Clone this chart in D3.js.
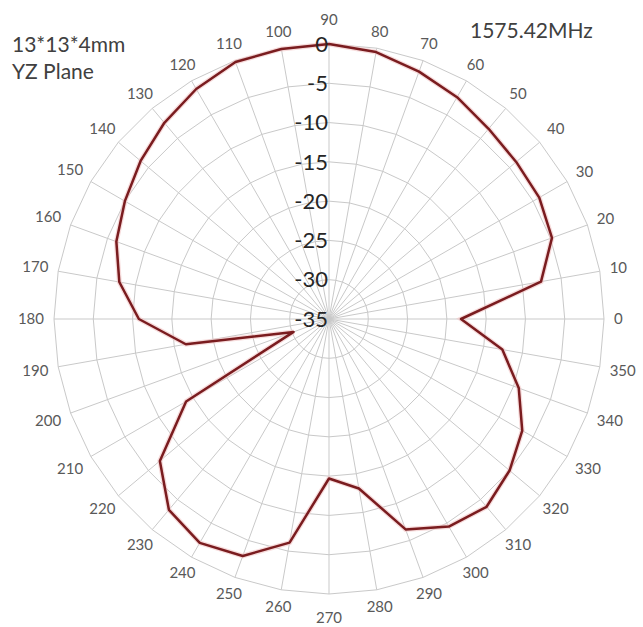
<!DOCTYPE html>
<html>
<head>
<meta charset="utf-8">
<script src="https://cdn.jsdelivr.net/npm/d3@7"></script>
<style>
  body { margin: 0; background: #fff; }
  text { font-family: Lato, "Open Sans", sans-serif; }
</style>
</head>
<body>
<script>
// Measured pattern, degrees and dB
var angles = [0, 10, 20, 30, 40, 50, 60, 70, 80, 90, 100, 110,
              120, 130, 140, 150, 160, 170, 180, 190, 200, 210, 220, 230,
              240, 250, 260, 270, 280, 290, 300, 310, 320, 330, 340, 350];
var gain = [-18.2, -7.6, -4.8, -4.1, -3.9, -3.4, -2.4, -1.5, -0.5, 0, -0.1, -0.2,
            -1.2, -2.4, -3.7, -5.0, -6.2, -7.9, -10.8, -16.5, -30.2, -14.0, -6.9, -3.3,
            -2.1, -2.9, -6.1, -14.7, -13.1, -6.5, -4.5, -3.8, -5.0, -6.6, -9.3, -12.6];
var ringLevels = [-35, -30, -25, -20, -15, -10, -5, 0];
var titleLines = ["13*13*4mm", "YZ Plane"];
var freqLabel = "1575.42MHz";

// Dimensions
var w = 643, h = 627;
var cx = 329, cy = 319, R = 275;

var svg = d3.select("body")
    .append("svg")
    .attr("width", w)
    .attr("height", h);

var g = svg.append("g")
    .attr("transform", "translate(" + cx + "," + cy + ")");

// Scales: 0 deg at 3 o'clock, counter-clockwise
var r = d3.scaleLinear().domain([-35, 0]).range([0, R]);
var a = d3.scaleLinear().domain([0, 360]).range([Math.PI / 2, Math.PI / 2 - 2 * Math.PI]);

var radial = d3.lineRadial()
    .angle(function(d) { return a(d.angle); })
    .radius(function(d) { return r(d.value); })
    .curve(d3.curveLinearClosed);

// Rings (36-gons like the radar grid)
g.selectAll(".ring")
    .data(ringLevels.filter(function(l) { return l > -35; }))
    .enter()
    .append("path")
    .attr("class", "ring")
    .attr("d", function(l) {
        return radial(angles.map(function(t) { return { angle: t, value: l }; }));
    })
    .style("fill", "none")
    .style("stroke", "#c9c9c9")
    .style("stroke-width", 1);

// Spokes
g.selectAll(".spoke")
    .data(angles)
    .enter()
    .append("line")
    .attr("class", "spoke")
    .attr("x1", 0)
    .attr("y1", 0)
    .attr("x2", function(t) { return Math.sin(a(t)) * r(0); })
    .attr("y2", function(t) { return -Math.cos(a(t)) * r(0); })
    .style("stroke", "#c9c9c9")
    .style("stroke-width", 1);

// Angle labels, pushed out by their own box
var angleLabels = g.selectAll(".angleLabel")
    .data(angles)
    .enter()
    .append("text")
    .attr("class", "angleLabel")
    .attr("text-anchor", "middle")
    .attr("dy", "0.35em")
    .style("font-size", "15px")
    .style("fill", "#595959")
    .text(function(t) { return t; });

angleLabels.each(function(t) {
    var tw = this.getComputedTextLength(), th = 14;
    var ang = a(t), sx = Math.sin(ang), sy = -Math.cos(ang);
    var off = Math.min(
        Math.abs(sx) > 1e-6 ? tw / 2 / Math.abs(sx) : 1e9,
        Math.abs(sy) > 1e-6 ? th / 2 / Math.abs(sy) : 1e9);
    // straight up / down labels sit a little further out
    var extra = Math.abs(sy) > 0.99 ? 7 : 0;
    var d = r(0) + 10 + off + extra;
    d3.select(this).attr("x", sx * d).attr("y", sy * d);
});

// Pattern line
var pattern = angles.map(function(t, i) { return { angle: t, value: gain[i] }; });

g.append("path")
    .datum(pattern)
    .attr("d", radial)
    .style("fill", "none")
    .style("stroke", "#f2c4c4")
    .style("stroke-width", 5)
    .style("opacity", 0.6);

g.append("path")
    .datum(pattern)
    .attr("d", radial)
    .style("fill", "none")
    .style("stroke", "#7a1c1f")
    .style("stroke-width", 2.5)
    .style("stroke-linejoin", "round");

// dB labels up the 90 deg spoke
g.selectAll(".ringLabel")
    .data(ringLevels)
    .enter()
    .append("text")
    .attr("class", "ringLabel")
    .attr("text-anchor", "end")
    .attr("x", -1)
    .attr("y", function(l) { return -r(l); })
    .attr("dy", "0.35em")
    .style("font-size", "22px")
    .style("fill", "#262626")
    .text(function(l) { return l; });

// Titles
svg.selectAll(".title")
    .data(titleLines)
    .enter()
    .append("text")
    .attr("class", "title")
    .attr("x", 12)
    .attr("y", function(d, i) { return 52 + i * 27; })
    .style("font-size", "21px")
    .style("fill", "#404040")
    .text(function(d) { return d; });

svg.append("text")
    .attr("x", 470)
    .attr("y", 38)
    .style("font-size", "21px")
    .style("fill", "#404040")
    .text(freqLabel);
</script>
</body>
</html>
